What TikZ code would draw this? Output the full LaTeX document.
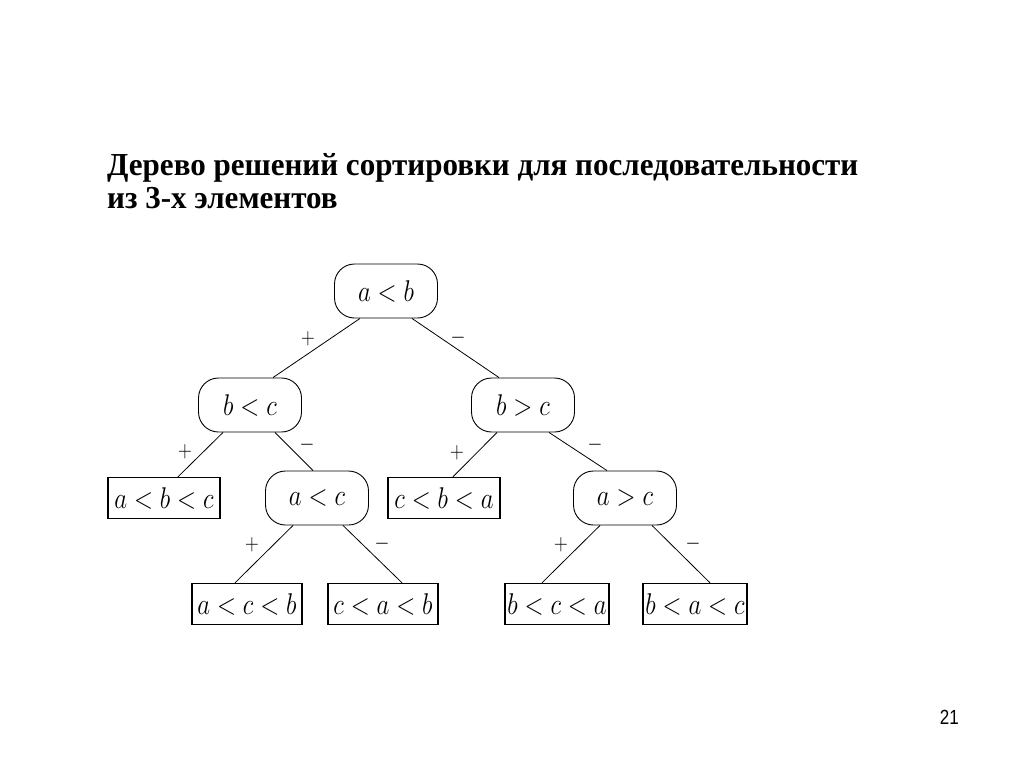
\RequirePackage{fix-cm}
\documentclass[tikz,border=0pt]{standalone}
\usepackage{fontspec}
\setmainfont{Liberation Serif}[FakeStretch=0.97]
\newfontfamily\pagefont{Liberation Sans}[FakeStretch=0.83]
\usetikzlibrary{positioning}

\newcommand\narrowmath[1]{\scalebox{0.83}[1]{$#1$}}

\tikzset{
  test/.style={draw,rounded corners=20pt,minimum width=103pt,minimum height=54pt,
    line width=0.9pt,inner sep=0pt,font=\fontsize{30}{36}\selectfont},
  leaf/.style={draw,minimum width=110pt,minimum height=41pt,line width=1.4pt,
    inner sep=0pt,font=\fontsize{30}{36}\selectfont},
  sign/.style={inner sep=0pt,font=\fontsize{23}{26}\selectfont},
  branch/.style={line width=0.8pt},
  heading/.style={anchor=base west,inner sep=0pt,font=\fontsize{32}{33}\bfseries\selectfont}
}

\begin{document}
\begin{tikzpicture}[x=1pt,y=-1pt]
  \fill[white] (0,0) rectangle (1024,768);
  \useasboundingbox (0,0) rectangle (1024,768);

  \node[heading] (title1) at (107,175) {Дерево решений сортировки для последовательности};
  \node[heading] (title2) at (107,208) {из 3-х элементов};

  % comparisons
  \node[test] (root) at (386,291) {\narrowmath{a<b}};
  \node[test] (bc)   at (250,405) {\narrowmath{b<c}};
  \node[test] (bgc)  at (523,405) {\narrowmath{b>c}};
  \node[test] (ac)   at (317,498) {\narrowmath{a<c}};
  \node[test] (agc)  at (625,498) {\narrowmath{a>c}};

  % orders
  \node[leaf,minimum width=112pt] (abc) at (164,498) {\narrowmath{a<b<c}};
  \node[leaf,minimum width=112pt] (cba) at (444,498) {\narrowmath{c<b<a}};
  \node[leaf] (acb) at (247,604) {\narrowmath{a<c<b}};
  \node[leaf] (cab) at (383,604) {\narrowmath{c<a<b}};
  \node[leaf,minimum width=104pt] (bca) at (557,604) {\narrowmath{b<c<a}};
  \node[leaf,minimum width=104pt] (bac) at (695,604) {\narrowmath{b<a<c}};

  \draw[branch] ([xshift=-26pt]root.south) -- ([xshift=23pt]bc.north);
  \draw[branch] ([xshift=26pt]root.south)  -- ([xshift=-24pt]bgc.north);
  \draw[branch] ([xshift=-27pt]bc.south)   -- ([xshift=14pt]abc.north);
  \draw[branch] ([xshift=25pt]bc.south)    -- ([xshift=-4pt]ac.north);
  \draw[branch] ([xshift=-26pt]bgc.south)  -- ([xshift=9pt]cba.north);
  \draw[branch] ([xshift=26pt]bgc.south)   -- ([xshift=-18pt]agc.north);
  \draw[branch] ([xshift=-24pt]ac.south)   -- ([xshift=-12pt]acb.north);
  \draw[branch] ([xshift=26pt]ac.south)    -- ([xshift=19pt]cab.north);
  \draw[branch] ([xshift=-25pt]agc.south)  -- ([xshift=-15pt]bca.north);
  \draw[branch] ([xshift=27pt]agc.south)   -- ([xshift=15pt]bac.north);

  % branch signs
  \node[sign] (yes1) at (308,339) {\narrowmath{+}};
  \node[sign] (no1)  at (458,338) {\narrowmath{-}};
  \node[sign] (yes2) at (185,452) {\narrowmath{+}};
  \node[sign] (no2)  at (307,445) {\narrowmath{-}};
  \node[sign] (yes3) at (457,453) {\narrowmath{+}};
  \node[sign] (no3)  at (595,445) {\narrowmath{-}};
  \node[sign] (yes4) at (252,545) {\narrowmath{+}};
  \node[sign] (no4)  at (382,544) {\narrowmath{-}};
  \node[sign] (yes5) at (561,545) {\narrowmath{+}};
  \node[sign] (no5)  at (693,544) {\narrowmath{-}};

  \node[anchor=base east,inner sep=0pt,font=\pagefont\fontsize{20.5}{24}\selectfont]
    (pageno) at (959,724) {21};
\end{tikzpicture}
\end{document}
